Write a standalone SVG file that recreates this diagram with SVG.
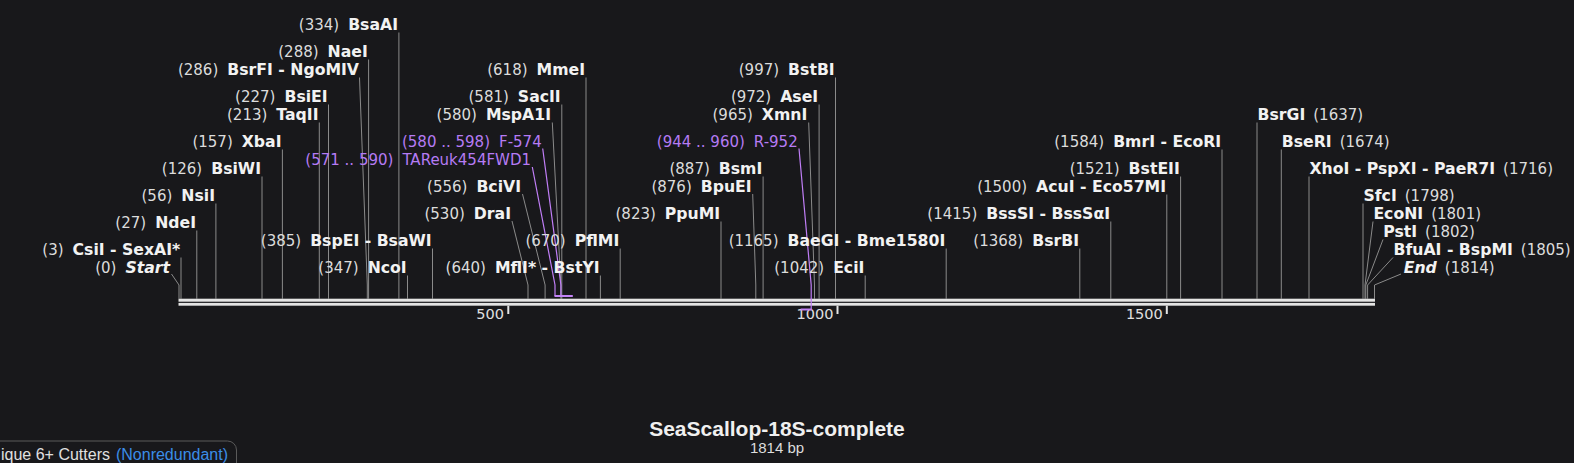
<svg xmlns="http://www.w3.org/2000/svg" width="1574" height="463" viewBox="0 0 1574 463">
<style>
text{font-family:"DejaVu Sans",Verdana,sans-serif}
.L{text-anchor:end}
.R{text-anchor:start}
.n{font-size:15px;fill:#dcdcdc}
.m{font-size:15.7px;font-weight:bold;fill:#f2f2f2}
.it{font-style:italic}
.pn{font-size:15px;fill:#b57bf4}
.pm{font-size:15px;fill:#b57bf4}
.ln{stroke:#8a8a8a;stroke-width:1;fill:none}
.pl{stroke:#c07ef7;stroke-width:1.2;fill:none}
.pb{fill:#c383f7}
.tr{fill:#e4e4e4}
.tk{font-size:14.5px;fill:#e0e0e0;text-anchor:end}
.ttl{font-family:"Liberation Sans",Arial,sans-serif;font-size:21px;font-weight:bold;fill:#f0f0f0;text-anchor:middle}
.sub{font-family:"Liberation Sans",Arial,sans-serif;font-size:15px;fill:#dddddd;text-anchor:middle}
.leg{font-family:"Liberation Sans",Arial,sans-serif;font-size:16px;fill:#e0e0e0}
</style>
<rect x="0" y="0" width="1574" height="463" fill="#18181b"/>

<g id="connectors">
<polyline class="ln" points="171.5,274 179,285 179,298.7"/>
<line class="ln" x1="181" y1="257.5" x2="181" y2="298.7"/>
<line class="ln" x1="196.8" y1="230.5" x2="196.8" y2="298.7"/>
<line class="ln" x1="215.9" y1="203.5" x2="215.9" y2="298.7"/>
<line class="ln" x1="262" y1="176.5" x2="262" y2="298.7"/>
<line class="ln" x1="282.4" y1="149.5" x2="282.4" y2="298.7"/>
<line class="ln" x1="319.3" y1="122.5" x2="319.3" y2="298.7"/>
<line class="ln" x1="328.5" y1="104.5" x2="328.5" y2="298.7"/>
<polyline class="ln" points="359.5,77.5 367.3,285 367.3,298.7"/>
<line class="ln" x1="368.6" y1="59.5" x2="368.6" y2="298.7"/>
<line class="ln" x1="398.9" y1="32.5" x2="398.9" y2="298.7"/>
<line class="ln" x1="407.5" y1="275.5" x2="407.5" y2="298.7"/>
<line class="ln" x1="432.5" y1="248.5" x2="432.5" y2="298.7"/>
<polyline class="ln" points="512,221 528,285 528,298.7"/>
<polyline class="ln" points="522.5,194 545.1,285 545.1,298.7"/>
<polyline class="ln" points="552.3,122.5 560.9,285 560.9,298.7"/>
<line class="ln" x1="561.8" y1="104.5" x2="561.8" y2="298.7"/>
<line class="ln" x1="586" y1="77.5" x2="586" y2="298.7"/>
<line class="ln" x1="600.4" y1="275.5" x2="600.4" y2="298.7"/>
<line class="ln" x1="620.2" y1="248.5" x2="620.2" y2="298.7"/>
<line class="ln" x1="721" y1="221.5" x2="721" y2="298.7"/>
<polyline class="ln" points="752.7,194 755.8,285 755.8,298.7"/>
<line class="ln" x1="763.1" y1="176.5" x2="763.1" y2="298.7"/>
<polyline class="ln" points="808.7,122.5 814.5,285 814.5,298.7"/>
<line class="ln" x1="819.1" y1="104.5" x2="819.1" y2="298.7"/>
<line class="ln" x1="835.5" y1="77.5" x2="835.5" y2="298.7"/>
<line class="ln" x1="865.2" y1="275.5" x2="865.2" y2="298.7"/>
<line class="ln" x1="946.2" y1="248.5" x2="946.2" y2="298.7"/>
<line class="ln" x1="1079.8" y1="248.5" x2="1079.8" y2="298.7"/>
<line class="ln" x1="1110.8" y1="221.5" x2="1110.8" y2="298.7"/>
<line class="ln" x1="1166.8" y1="194.5" x2="1166.8" y2="298.7"/>
<line class="ln" x1="1180.6" y1="176.5" x2="1180.6" y2="298.7"/>
<line class="ln" x1="1222" y1="149.5" x2="1222" y2="298.7"/>
<line class="ln" x1="1257" y1="122.5" x2="1257" y2="298.7"/>
<line class="ln" x1="1281.3" y1="149.5" x2="1281.3" y2="298.7"/>
<line class="ln" x1="1309" y1="176.5" x2="1309" y2="298.7"/>
<line class="ln" x1="1363" y1="203.5" x2="1363" y2="298.7"/>
<polyline class="ln" points="1373,221.5 1365,285 1365,298.7"/>
<polyline class="ln" points="1383,239.5 1365.8,285 1365.8,298.7"/>
<polyline class="ln" points="1393,257.5 1367.6,285 1367.6,298.7"/>
<polyline class="ln" points="1401,274 1374.5,285 1374.5,298.7"/>
<polyline class="pl" points="532.3,167 555,285 555,296"/>
<polyline class="pl" points="542.7,148.5 560.9,285 560.9,296"/>
</g>

<g id="track">
<rect class="tr" x="178.5" y="298.7" width="1196.5" height="3"/>
<rect class="tr" x="178.5" y="302.9" width="1196.5" height="2.8"/>
<rect class="tr" x="507.3" y="305.7" width="2" height="8.3"/>
<rect class="tr" x="836.5" y="305.7" width="2" height="8.3"/>
<rect class="tr" x="1165.8" y="305.7" width="2" height="8.3"/>
<text class="tk" x="504" y="319">500</text>
<text class="tk" x="833.5" y="319">1000</text>
<text class="tk" x="1162.8" y="319">1500</text>
</g>

<g id="primers">
<rect class="pb" x="554.5" y="295" width="18.3" height="2"/>
<rect class="pb" x="800.6" y="308.5" width="11" height="2"/>
<polyline class="pl" points="799,148.5 811.2,285 811.2,310"/>
</g>

<g id="n-start"><text class="L" x="170" y="272.7"><tspan class="n">(0)</tspan><tspan class="m it" dx="9">Start</tspan></text></g>
<g id="n-csii"><text class="L" x="180.3" y="254.7"><tspan class="n">(3)</tspan><tspan class="m" dx="9">CsiI - SexAI*</tspan></text></g>
<g id="n-ndei"><text class="L" x="196" y="227.7"><tspan class="n">(27)</tspan><tspan class="m" dx="9">NdeI</tspan></text></g>
<g id="n-nsii"><text class="L" x="215" y="200.7"><tspan class="n">(56)</tspan><tspan class="m" dx="9">NsiI</tspan></text></g>
<g id="n-bsiwi"><text class="L" x="261" y="173.7"><tspan class="n">(126)</tspan><tspan class="m" dx="9">BsiWI</tspan></text></g>
<g id="n-xbai"><text class="L" x="281.5" y="146.7"><tspan class="n">(157)</tspan><tspan class="m" dx="9">XbaI</tspan></text></g>
<g id="n-taqii"><text class="L" x="318.5" y="119.7"><tspan class="n">(213)</tspan><tspan class="m" dx="9">TaqII</tspan></text></g>
<g id="n-bsiei"><text class="L" x="327.7" y="101.7"><tspan class="n">(227)</tspan><tspan class="m" dx="9">BsiEI</tspan></text></g>
<g id="n-bsrfi"><text class="L" x="359" y="74.7"><tspan class="n">(286)</tspan><tspan class="m" dx="9">BsrFI - NgoMIV</tspan></text></g>
<g id="n-naei"><text class="L" x="367.8" y="56.7"><tspan class="n">(288)</tspan><tspan class="m" dx="9">NaeI</tspan></text></g>
<g id="n-bsaai"><text class="L" x="398" y="29.7"><tspan class="n">(334)</tspan><tspan class="m" dx="9">BsaAI</tspan></text></g>
<g id="n-ncoi"><text class="L" x="406.7" y="272.7"><tspan class="n">(347)</tspan><tspan class="m" dx="9">NcoI</tspan></text></g>
<g id="n-bspei"><text class="L" x="431.7" y="245.7"><tspan class="n">(385)</tspan><tspan class="m" dx="9">BspEI - BsaWI</tspan></text></g>
<g id="n-drai"><text class="L" x="511" y="218.7"><tspan class="n">(530)</tspan><tspan class="m" dx="9">DraI</tspan></text></g>
<g id="n-bcivi"><text class="L" x="521" y="191.7"><tspan class="n">(556)</tspan><tspan class="m" dx="9">BciVI</tspan></text></g>
<g id="n-tareuk"><text class="L" x="531" y="164.7"><tspan class="pn">(571 .. 590)</tspan><tspan class="pm" dx="9">TAReuk454FWD1</tspan></text></g>
<g id="n-f574"><text class="L" x="541.7" y="146.7"><tspan class="pn">(580 .. 598)</tspan><tspan class="pm" dx="9">F-574</tspan></text></g>
<g id="n-mspa1i"><text class="L" x="551" y="119.7"><tspan class="n">(580)</tspan><tspan class="m" dx="9">MspA1I</tspan></text></g>
<g id="n-sacii"><text class="L" x="560.7" y="101.7"><tspan class="n">(581)</tspan><tspan class="m" dx="9">SacII</tspan></text></g>
<g id="n-mmei"><text class="L" x="585" y="74.7"><tspan class="n">(618)</tspan><tspan class="m" dx="9">MmeI</tspan></text></g>
<g id="n-mfli"><text class="L" x="599.6" y="272.7"><tspan class="n">(640)</tspan><tspan class="m" dx="9">MflI* - BstYI</tspan></text></g>
<g id="n-pflmi"><text class="L" x="619.3" y="245.7"><tspan class="n">(670)</tspan><tspan class="m" dx="9">PflMI</tspan></text></g>
<g id="n-ppumi"><text class="L" x="720.2" y="218.7"><tspan class="n">(823)</tspan><tspan class="m" dx="9">PpuMI</tspan></text></g>
<g id="n-bpuei"><text class="L" x="751.7" y="191.7"><tspan class="n">(876)</tspan><tspan class="m" dx="9">BpuEI</tspan></text></g>
<g id="n-bsmi"><text class="L" x="762.3" y="173.7"><tspan class="n">(887)</tspan><tspan class="m" dx="9">BsmI</tspan></text></g>
<g id="n-r952"><text class="L" x="797.7" y="146.7"><tspan class="pn">(944 .. 960)</tspan><tspan class="pm" dx="9">R-952</tspan></text></g>
<g id="n-xmni"><text class="L" x="807.3" y="119.7"><tspan class="n">(965)</tspan><tspan class="m" dx="9">XmnI</tspan></text></g>
<g id="n-asei"><text class="L" x="818.2" y="101.7"><tspan class="n">(972)</tspan><tspan class="m" dx="9">AseI</tspan></text></g>
<g id="n-bstbi"><text class="L" x="834.7" y="74.7"><tspan class="n">(997)</tspan><tspan class="m" dx="9">BstBI</tspan></text></g>
<g id="n-ecii"><text class="L" x="864.4" y="272.7"><tspan class="n">(1042)</tspan><tspan class="m" dx="9">EciI</tspan></text></g>
<g id="n-baegi"><text class="L" x="945.3" y="245.7"><tspan class="n">(1165)</tspan><tspan class="m" dx="9">BaeGI - Bme1580I</tspan></text></g>
<g id="n-bsrbi"><text class="L" x="1079" y="245.7"><tspan class="n">(1368)</tspan><tspan class="m" dx="9">BsrBI</tspan></text></g>
<g id="n-bsssi"><text class="L" x="1110" y="218.7"><tspan class="n">(1415)</tspan><tspan class="m" dx="9">BssSI - BssSαI</tspan></text></g>
<g id="n-acui"><text class="L" x="1166" y="191.7"><tspan class="n">(1500)</tspan><tspan class="m" dx="9">AcuI - Eco57MI</tspan></text></g>
<g id="n-bsteii"><text class="L" x="1179.8" y="173.7"><tspan class="n">(1521)</tspan><tspan class="m" dx="9">BstEII</tspan></text></g>
<g id="n-bmri"><text class="L" x="1221.2" y="146.7"><tspan class="n">(1584)</tspan><tspan class="m" dx="9">BmrI - EcoRI</tspan></text></g>
<g id="n-bsrgi"><text class="R" x="1257.5" y="119.7"><tspan class="m">BsrGI</tspan><tspan class="n" dx="8">(1637)</tspan></text></g>
<g id="n-bseri"><text class="R" x="1281.8" y="146.7"><tspan class="m">BseRI</tspan><tspan class="n" dx="8">(1674)</tspan></text></g>
<g id="n-xhoi"><text class="R" x="1309.5" y="173.7"><tspan class="m">XhoI - PspXI - PaeR7I</tspan><tspan class="n" dx="8">(1716)</tspan></text></g>
<g id="n-sfci"><text class="R" x="1363.5" y="200.7"><tspan class="m">SfcI</tspan><tspan class="n" dx="8">(1798)</tspan></text></g>
<g id="n-econi"><text class="R" x="1373.4" y="218.7"><tspan class="m">EcoNI</tspan><tspan class="n" dx="8">(1801)</tspan></text></g>
<g id="n-psti"><text class="R" x="1383.2" y="236.7"><tspan class="m">PstI</tspan><tspan class="n" dx="8">(1802)</tspan></text></g>
<g id="n-bfuai"><text class="R" x="1393.5" y="254.7"><tspan class="m">BfuAI - BspMI</tspan><tspan class="n" dx="8">(1805)</tspan></text></g>
<g id="n-end"><text class="R" x="1403.7" y="272.7"><tspan class="m it">End</tspan><tspan class="n" dx="8">(1814)</tspan></text></g>

<g id="title">
<text class="ttl" x="777" y="436">SeaScallop-18S-complete</text>
<text class="sub" x="777" y="453">1814 bp</text>
</g>

<g id="legend">
<rect x="-20" y="441" width="256.5" height="40" rx="9" fill="none" stroke="#5a5a5a" stroke-width="1"/>
<text class="leg" x="1" y="459.5">ique 6+ Cutters<tspan fill="#3b8de8" dx="6">(Nonredundant)</tspan></text>
</g>
</svg>
